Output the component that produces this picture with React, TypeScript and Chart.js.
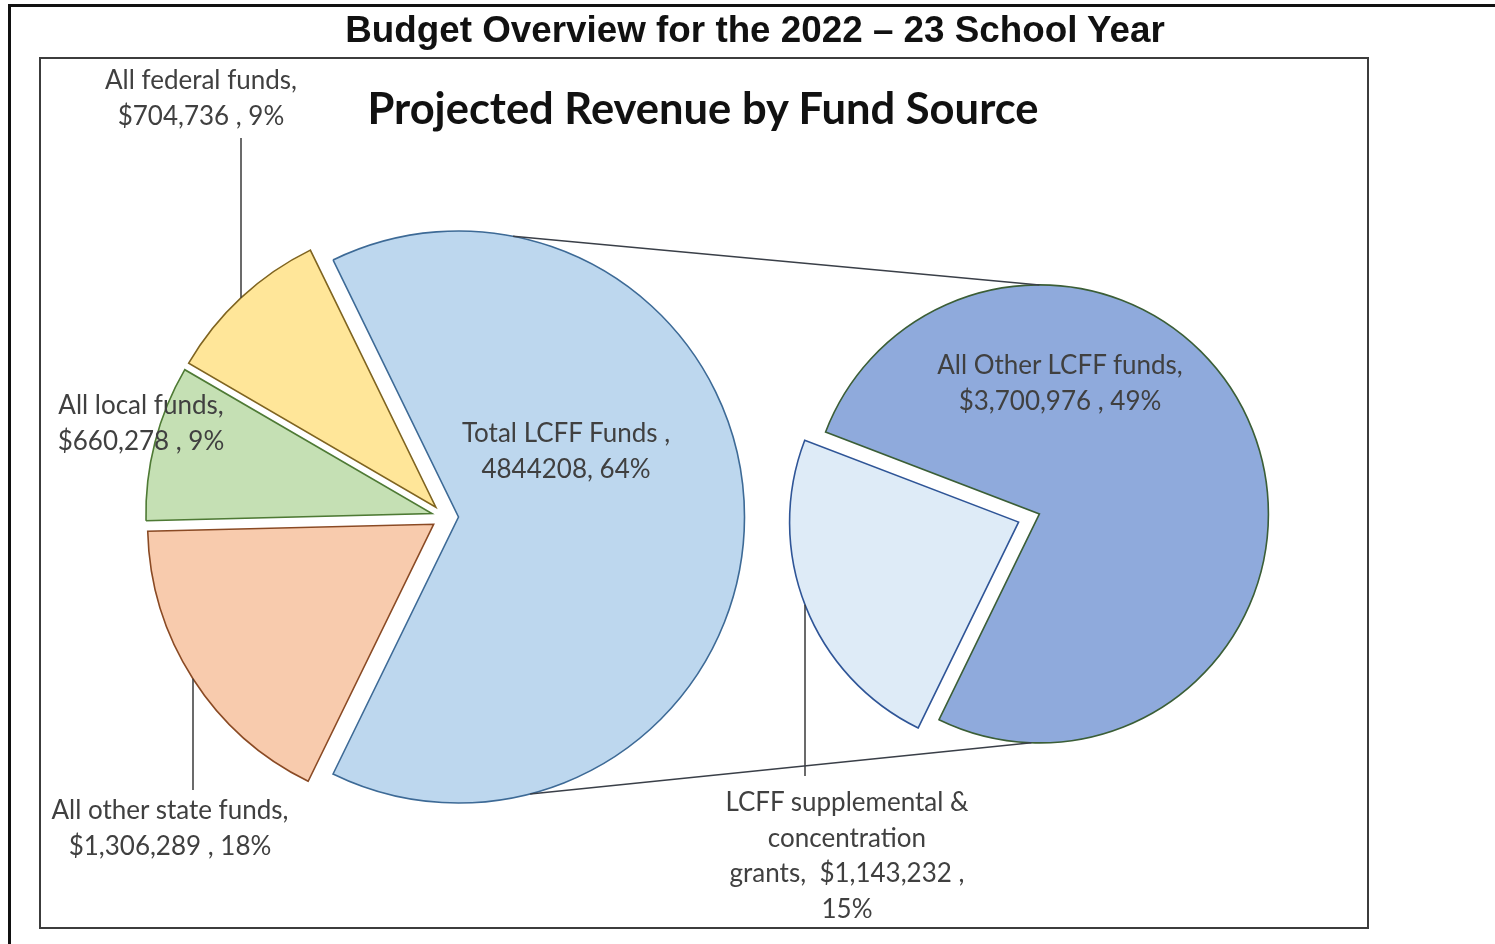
import React, { useEffect, useRef } from 'react';
import { Chart, registerables } from 'chart.js';

Chart.register(...registerables);

// ---------- data ----------
const mainCategories = ['Total LCFF Funds', 'All other state funds', 'All local funds', 'All federal funds'];
const mainValues = [4844208, 1306289, 660278, 704736];
const mainPercents = [64, 18, 9, 9];
const subCategories = ['LCFF supplemental & concentration grants', 'All Other LCFF funds'];
const subValues = [1143232, 3700976];
const subPercents = [15, 49];

// ---------- styles ----------
const mainColors = ['#BDD7EE', '#F8CBAD', '#C5E0B4', '#FFE699'];
const mainBorders = ['#3D6A96', '#8A4A24', '#4E7A34', '#7F6420'];
const subColors = ['#DEEBF7', '#8FAADC'];
const subBorders = ['#2F5597', '#3B5E36'];

const W = 1495;
const H = 944;
const LABEL_FONT = 'Lato, "Open Sans", sans-serif';

const money = (v: number) => '$' + v.toLocaleString('en-US');

const labelBlocks = [
  { lines: [mainCategories[3] + ',', `${money(mainValues[3])} , ${mainPercents[3]}%`], cx: 201, y: 80 },
  { lines: [mainCategories[2] + ',', `${money(mainValues[2])} , ${mainPercents[2]}%`], cx: 141, y: 405 },
  { lines: [mainCategories[0] + ' ,', `${mainValues[0]}, ${mainPercents[0]}%`], cx: 566, y: 433 },
  { lines: [mainCategories[1] + ',', `${money(mainValues[1])} , ${mainPercents[1]}%`], cx: 170, y: 810 },
  { lines: [subCategories[1] + ',', `${money(subValues[1])} , ${subPercents[1]}%`], cx: 1060, y: 365 },
  { lines: ['LCFF supplemental &', 'concentration', `grants,  ${money(subValues[0])} ,`, `${subPercents[0]}%`], cx: 847, y: 802 },
];

const LINE_H = 35.5;

// explode slices along their mid angle (Excel-style explosion, radius unchanged)
const explodePlugin = {
  id: 'explode',
  afterDatasetsUpdate(chart: any, _args: any, opts: any) {
    const meta = chart.getDatasetMeta(0);
    meta.data.forEach((arc: any, i: number) => {
      const d = (opts.distances && opts.distances[i]) || 0;
      const mid = (arc.startAngle + arc.endAngle) / 2;
      arc.x += Math.cos(mid) * d;
      arc.y += Math.sin(mid) * d;
    });
  },
};

// vertical leader lines from label to slice edge
const leaderPlugin = {
  id: 'leaders',
  afterDatasetsDraw(chart: any, _args: any, opts: any) {
    const meta = chart.getDatasetMeta(0);
    const ctx = chart.ctx;
    ctx.save();
    ctx.strokeStyle = '#3a3a3a';
    ctx.lineWidth = 1.5;
    (opts.items || []).forEach((it: any) => {
      const arc = meta.data[it.index];
      const r = arc.outerRadius;
      const dx = it.x - arc.x;
      const dy = Math.sqrt(Math.max(r * r - dx * dx, 0));
      const yArc = it.y < arc.y ? arc.y - dy : arc.y + dy;
      ctx.beginPath();
      ctx.moveTo(it.x, it.y);
      ctx.lineTo(it.x, yArc);
      ctx.stroke();
    });
    ctx.restore();
  },
};

export default function App() {
  const leftRef = useRef<HTMLCanvasElement>(null);
  const rightRef = useRef<HTMLCanvasElement>(null);

  useEffect(() => {
    document.body.style.margin = '0';
    const total = mainValues.reduce((a, b) => a + b, 0);
    const lcffShare = mainValues[0] / total;

    const left = new Chart(leftRef.current as HTMLCanvasElement, {
      type: 'pie',
      data: {
        labels: mainCategories,
        datasets: [
          {
            data: mainValues,
            backgroundColor: mainColors,
            borderColor: mainBorders,
            borderWidth: 1.6,
            borderJoinStyle: 'miter',
            radius: 286,
          } as any,
        ],
      },
      options: {
        responsive: false,
        animation: false,
        events: [],
        rotation: 90 - lcffShare * 180,
        radius: 286,
        layout: { padding: { left: 145, right: W - 745, top: 217, bottom: H - 817 } },
        plugins: {
          legend: { display: false },
          tooltip: { enabled: false },
          explode: { distances: [13.5, 13.5, 13.5, 13.5] },
          leaders: {
            items: [
              { index: 3, x: 241, y: 138 },
              { index: 1, x: 193, y: 790 },
            ],
          },
        } as any,
      } as any,
      plugins: [explodePlugin, leaderPlugin],
    });

    const deg = Math.PI / 180;
    const connectorPlugin = {
      id: 'connectors',
      afterDatasetsDraw(chart: any) {
        const a = left.getDatasetMeta(0).data[0] as any;
        const b = chart.getDatasetMeta(0).data[1] as any;
        const pts = [
          [-79, -90],
          [75.5, 92],
        ];
        const ctx = chart.ctx;
        ctx.save();
        ctx.strokeStyle = '#3a3f48';
        ctx.lineWidth = 1.5;
        pts.forEach(([pa, pb]) => {
          ctx.beginPath();
          ctx.moveTo(a.x + Math.cos(pa * deg) * a.outerRadius, a.y + Math.sin(pa * deg) * a.outerRadius);
          ctx.lineTo(b.x + Math.cos(pb * deg) * b.outerRadius, b.y + Math.sin(pb * deg) * b.outerRadius);
          ctx.stroke();
        });
        ctx.restore();
      },
    };

    const cx2 = 1029;
    const cy2 = 518;
    const right = new Chart(rightRef.current as HTMLCanvasElement, {
      type: 'pie',
      data: {
        labels: subCategories,
        datasets: [
          {
            data: subValues,
            backgroundColor: subColors,
            borderColor: subBorders,
            borderWidth: 1.6,
            borderJoinStyle: 'miter',
            radius: 229,
          } as any,
        ],
      },
      options: {
        responsive: false,
        animation: false,
        events: [],
        rotation: 206,
        radius: 229,
        layout: { padding: { left: cx2 - 240, right: W - (cx2 + 240), top: cy2 - 240, bottom: H - (cy2 + 240) } },
        plugins: {
          legend: { display: false },
          tooltip: { enabled: false },
          explode: { distances: [11.2, 11.2] },
          leaders: { items: [{ index: 0, x: 805, y: 776 }] },
        } as any,
      } as any,
      plugins: [explodePlugin, leaderPlugin, connectorPlugin],
    });

    return () => {
      right.destroy();
      left.destroy();
    };
  }, []);

  const abs: React.CSSProperties = { position: 'absolute', left: 0, top: 0 };

  return (
    <div style={{ position: 'relative', width: W, height: H, overflow: 'hidden', background: '#fff' }}>
      <div
        style={{
          position: 'absolute',
          left: 8,
          top: 4,
          width: W,
          height: H + 10,
          borderTop: '3px solid #111',
          borderLeft: '3px solid #111',
          boxSizing: 'border-box',
        }}
      />
      <div
        style={{
          position: 'absolute',
          left: 39,
          top: 57,
          width: 1330,
          height: 872,
          border: '2px solid #3c3c3c',
          boxSizing: 'border-box',
        }}
      />
      <canvas ref={leftRef} width={W} height={H} style={{ ...abs, width: W, height: H }} />
      <canvas ref={rightRef} width={W} height={H} style={{ ...abs, width: W, height: H }} />
      <div
        style={{
          position: 'absolute',
          left: 755,
          top: 30,
          transform: 'translate(-50%, -50%)',
          whiteSpace: 'nowrap',
          fontFamily: '"Liberation Sans", Arial, sans-serif',
          fontWeight: 'bold',
          fontSize: 36.8,
          color: '#111',
        }}
      >
        Budget Overview for the 2022 – 23 School Year
      </div>
      <div
        style={{
          position: 'absolute',
          left: 703,
          top: 107,
          transform: 'translate(-50%, -50%)',
          whiteSpace: 'nowrap',
          fontFamily: LABEL_FONT,
          fontWeight: 'bold',
          fontSize: 43.5,
          color: '#111',
        }}
      >
        Projected Revenue by Fund Source
      </div>
      {labelBlocks.map((b, i) => (
        <div
          key={i}
          style={{
            position: 'absolute',
            left: b.cx,
            top: b.y - LINE_H / 2,
            transform: 'translateX(-50%)',
            whiteSpace: 'pre',
            textAlign: 'center',
            fontFamily: LABEL_FONT,
            fontSize: 26,
            lineHeight: LINE_H + 'px',
            color: '#404040',
          }}
        >
          {b.lines.join('\n')}
        </div>
      ))}
    </div>
  );
}
